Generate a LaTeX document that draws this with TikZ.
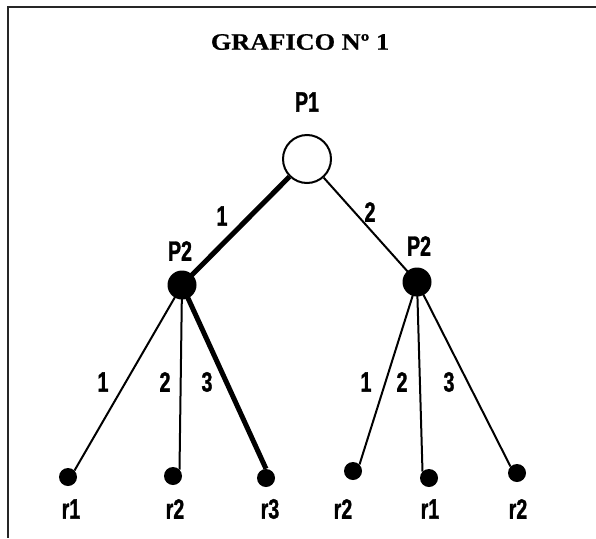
\documentclass[tikz,border=0pt]{standalone}
\usepackage{fontspec}
\newfontfamily\labfont[FakeStretch=0.7,FakeBold=1.2]{Liberation Sans Bold}
\newfontfamily\titlefont[FakeStretch=1.12,FakeBold=0.6]{Liberation Serif Bold}
\begin{document}
\begin{tikzpicture}[x=1pt,y=-1pt,
  lab/.style={font=\labfont\fontsize{28}{30}\selectfont, inner sep=0pt},
  openvert/.style={circle, draw, line width=2pt, fill=white, minimum size=48pt, inner sep=0pt},
  decvert/.style={circle, fill=black, minimum size=29pt, inner sep=0pt},
  leafvert/.style={circle, fill=black, minimum size=18pt, inner sep=0pt},
  thinedge/.style={line width=2pt},
  thickedge/.style={line width=5pt},
  framel/.style={line width=1.6pt, black!85}]
\useasboundingbox (0,0) rectangle (596,538);
% frame
\coordinate (ftr) at (596,7);
\coordinate (ftl) at (8,7);
\coordinate (fbl) at (8,538);
\draw[framel] (ftr) -- (ftl) -- (fbl);
% title
\node[font=\titlefont\fontsize{23.5}{26}\selectfont, inner sep=0pt] (title) at (300,42) {GRAFICO Nº 1};
% vertices
\node[openvert] (p1) at (307,159) {};
\node[decvert] (a) at (182,285) {};
\node[decvert] (b) at (417,282) {};
\node[leafvert] (l1) at (68,477) {};
\node[leafvert] (l2) at (173,476) {};
\node[leafvert] (l3) at (266,478) {};
\node[leafvert] (l4) at (353,471) {};
\node[leafvert] (l5) at (429,478) {};
\node[leafvert] (l6) at (517,473) {};
% edges
\draw[thickedge] (p1) -- (a.center);
\draw[thinedge] (p1) -- (b.center);
\draw[thinedge] (a.center) -- (l1.north east);
\draw[thinedge] (a.center) -- (l2.north east);
\draw[thickedge] (a.center) -- (l3.north);
\draw[thinedge] (b.center) -- (l4.north east);
\draw[thinedge] (b.center) -- (l5.north west);
\draw[thinedge] (b.center) -- (l6.north west);
% player labels
\node[lab] (tp1) at (307,102) {P1};
\node[lab] (ta) at (180,251) {P2};
\node[lab] (tb) at (419,246) {P2};
% edge labels
\node[lab] (e1) at (222,216) {1};
\node[lab] (e2) at (370,212) {2};
\node[lab] (e3) at (103,382) {1};
\node[lab] (e4) at (165,382) {2};
\node[lab] (e5) at (207,382) {3};
\node[lab] (e6) at (366,382) {1};
\node[lab] (e7) at (402,382) {2};
\node[lab] (e8) at (449,382) {3};
% outcome labels
\node[lab] (o1) at (71,509) {r1};
\node[lab] (o2) at (175,509) {r2};
\node[lab] (o3) at (270,509) {r3};
\node[lab] (o4) at (343,509) {r2};
\node[lab] (o5) at (430,509) {r1};
\node[lab] (o6) at (518,509) {r2};
\end{tikzpicture}
\end{document}
